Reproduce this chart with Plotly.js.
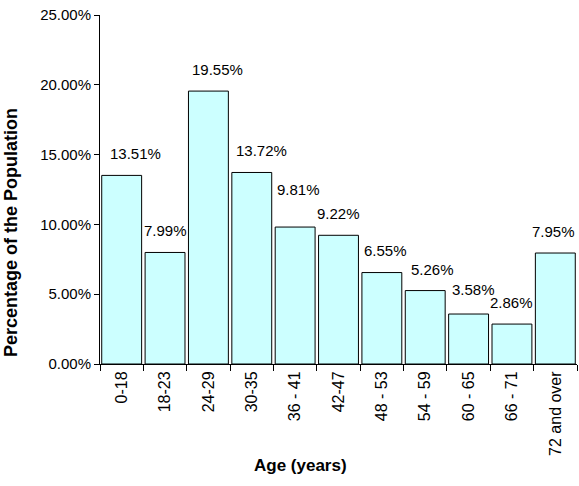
<!DOCTYPE html>
<html><head><meta charset="utf-8">
<script src="https://cdn.plot.ly/plotly-3.0.1.min.js"></script>
<style>html,body{margin:0;padding:0;background:#fff}#chart{width:579px;height:486px}</style>
</head><body><div id="chart"></div>
<script>
const categories = ["0-18","18-23","24-29","30-35","36 - 41","42-47","48 - 53","54 - 59","60 - 65","66 - 71","72 and over"];
const percentages = [13.51,7.99,19.55,13.72,9.81,9.22,6.55,5.26,3.58,2.86,7.95];
const labelTexts = ["13.51%","7.99%","19.55%","13.72%","9.81%","9.22%","6.55%","5.26%","3.58%","2.86%","7.95%"];

const labelXShift = [14,0,9,10,3,0,4,7,5,0,-2];
const labelYShift = [11,11,11,11,27,11,12,11,14,11,11];
const font = "Liberation Sans, Arial, sans-serif";

const trace = {
  type: "bar",
  x: categories,
  y: percentages.map(v => v/100),
  marker: {color: "#CCFFFF", line: {color: "#000", width: 1}},
  hoverinfo: "none"
};

const annotations = categories.map((c,i) => ({
  x: c, y: percentages[i]/100, xref: "x", yref: "y",
  text: labelTexts[i], showarrow: false, yanchor: "bottom",
  yshift: labelYShift[i], xshift: labelXShift[i],
  font: {family: font, size: 15, color: "#000"}
}));
annotations.push({
  xref: "paper", yref: "paper", x: (300-100)/477, y: 0, yshift: -113,
  text: "<b>Age (years)</b>", showarrow: false, yanchor: "bottom", xanchor: "center",
  font: {family: font, size: 17, color: "#000"}
});
annotations.push({
  xref: "paper", yref: "paper", x: (11-100)/477, y: (364-233)/349,
  text: "<b>Percentage of the Population</b>", showarrow: false, textangle: -90,
  xanchor: "center", yanchor: "middle",
  font: {family: font, size: 18, color: "#000"}
});

const layout = {
  width: 579, height: 486,
  margin: {l: 100, r: 2, t: 15, b: 122},
  paper_bgcolor: "#fff", plot_bgcolor: "#fff",
  bargap: 0.08,
  showlegend: false,
  font: {family: font, size: 15, color: "#000"},
  xaxis: {
    type: "category",
    tickangle: -90,
    ticks: "outside", ticklen: 6, tickcolor: "#000",
    tickson: "boundaries",
    showline: true, linecolor: "#000", linewidth: 1,
    showgrid: false, zeroline: false,
    tickfont: {family: font, size: 16, color: "#000"}
  },
  yaxis: {
    range: [0, 0.25],
    tickvals: [0,0.05,0.10,0.15,0.20,0.25],
    ticktext: ["0.00%","5.00%","10.00%","15.00%","20.00%","25.00%"],
    ticks: "outside", ticklen: 5, tickcolor: "#000",
    showline: true, linecolor: "#000", linewidth: 1,
    showgrid: false, zeroline: false,
    tickfont: {family: font, size: 15, color: "#000"}
  },
  annotations: annotations
};

Plotly.newPlot("chart", [trace], layout, {displayModeBar: false, staticPlot: true});
</script></body></html>
